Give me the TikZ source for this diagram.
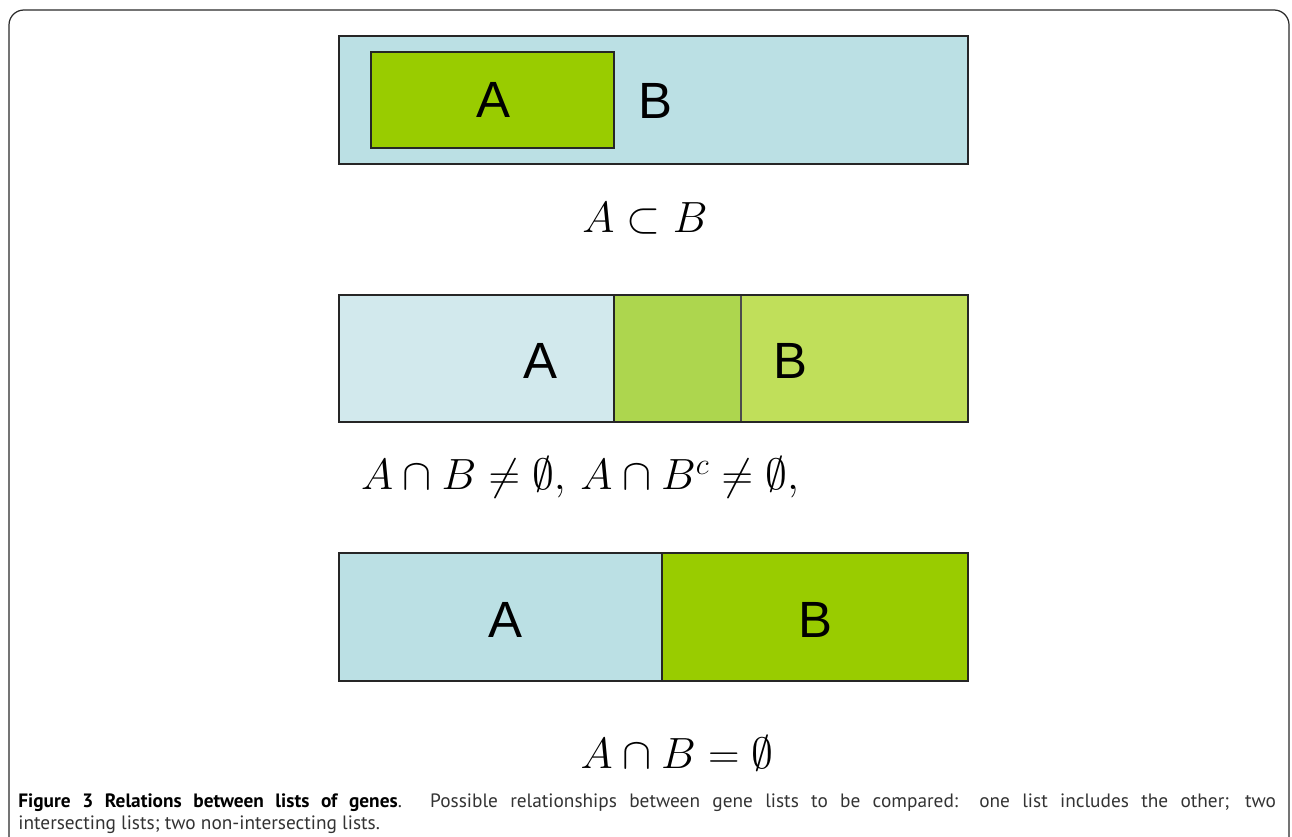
\documentclass[tikz,border=0pt]{standalone}
\usepackage{fontspec}
\usepackage{amsmath,amssymb}
\newfontfamily\panelfont{Liberation Sans}
\newfontfamily\capfont{PT Sans}
\usetikzlibrary{positioning}
\definecolor{framegray}{HTML}{2A2A2A}
\definecolor{listblue}{HTML}{BBE0E4}
\definecolor{paleblue}{HTML}{D2E9ED}
\definecolor{listgreen}{HTML}{99CC00}
\definecolor{midgreen}{HTML}{ADD64E}
\definecolor{lightgreen}{HTML}{C0DF5A}
\definecolor{captext}{HTML}{333333}
\tikzset{
  figframe/.style={draw=framegray,line width=0.7pt,rounded corners=8.5pt},
  listbox/.style={draw=black!85,line width=1.1pt},
  setlabel/.style={font=\panelfont\fontsize{29}{32}\selectfont,inner sep=0pt},
  relation/.style={font=\fontsize{27}{30}\selectfont,inner sep=0pt,anchor=base},
  caption/.style={text width=25.16cm,align=justify,inner sep=0pt,
                  font=\capfont\fontsize{11}{12.5}\selectfont,text=captext}
}

\begin{document}
\begin{tikzpicture}[x=0.02cm,y=-0.02cm]
    \useasboundingbox (0,0) rectangle (1292,837);
    \begin{scope}
      \clip (0,0) rectangle (1292,837);
      \draw[figframe] (9,10) rectangle (1289,890);
    \end{scope}
    % one list includes the other
    \draw[listbox,fill=listblue] (339,36) rectangle (968,164);
    \draw[listbox,fill=listgreen] (371,52) rectangle (614,148);
    \node[setlabel] (a1) at (493,100) {A};
    \node[setlabel] (b1) at (655,101) {B};
    \node[relation] (r1) at (645,233) {$A\subset B$};
    % two intersecting lists
    \fill[paleblue] (339,295) rectangle (614,422);
    \fill[midgreen] (614,295) rectangle (741,422);
    \fill[lightgreen] (741,295) rectangle (968,422);
    \draw[line width=0.7pt,draw=black!70] (741,295) -- (741,422);
    \draw[listbox] (614,295) -- (614,422);
    \draw[listbox] (339,295) rectangle (968,422);
    \node[setlabel] (a2) at (540,361) {A};
    \node[setlabel] (b2) at (790,361) {B};
    \node[relation] (r2) at (580,490)
      {$A\cap B\neq\emptyset,\,A\cap B^{c}\neq\emptyset,$};
    % two non-intersecting lists
    \fill[listblue] (339,553) rectangle (662,681);
    \fill[listgreen] (662,553) rectangle (968,681);
    \draw[listbox] (662,553) -- (662,681);
    \draw[listbox] (339,553) rectangle (968,681);
    \node[setlabel] (a3) at (505,620) {A};
    \node[setlabel] (b3) at (815,620) {B};
    \node[relation,font=\fontsize{29}{32}\selectfont] (r3) at (677,768)
      {$A\cap B=\emptyset$};
    % caption
    \node[caption,anchor=north west] (cap) at (18,793)
      {\textbf{\color{black}Figure 3 Relations between lists of genes}.
       Possible relationships between gene lists to be compared: one list
       includes the other; two\linebreak intersecting lists; two
       non-intersecting lists.};
\end{tikzpicture}
\end{document}
